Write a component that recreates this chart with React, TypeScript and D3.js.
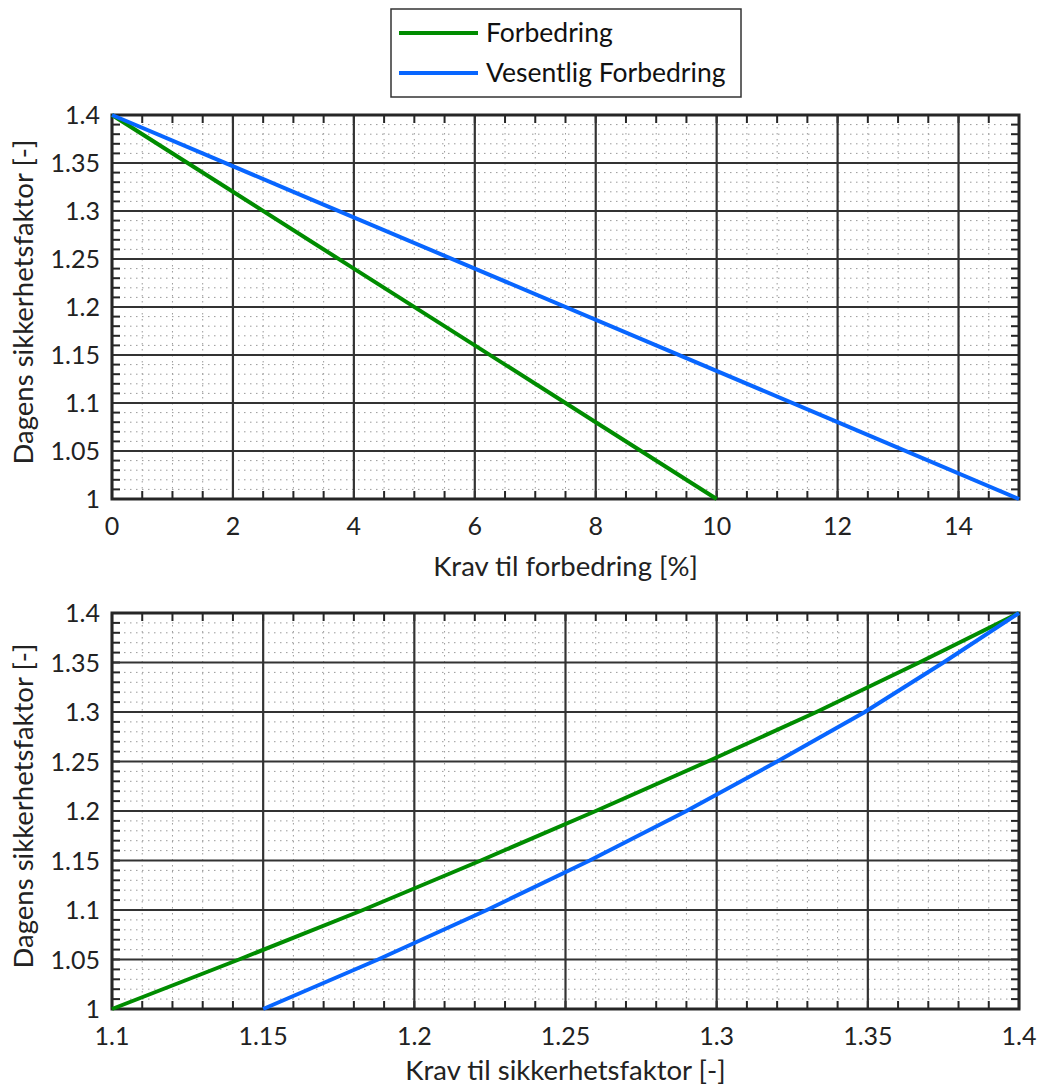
import React, { useEffect, useRef } from 'react'
import * as d3 from 'd3'

const W = 1038
const H = 1091
const FONT = 'Lato, "Open Sans", sans-serif'
const GREEN = '#008c00'
const BLUE = '#0866ff'
const AXIS = '#262626'

// Upper panel: required improvement [%] against current safety factor
const topGreenX = [0, 2, 4, 6, 8, 10]
const topGreenY = [1.4, 1.32, 1.24, 1.16, 1.08, 1.0]
const topBlueX = [0, 3, 6, 9, 12, 15]
const topBlueY = [1.4, 1.32, 1.24, 1.16, 1.08, 1.0]

// Lower panel: required safety factor against current safety factor
const bottomY = [1.0, 1.05, 1.1, 1.15, 1.2, 1.25, 1.3, 1.35, 1.4]
const bottomGreenX = [1.1, 1.142, 1.183, 1.222, 1.26, 1.297, 1.333, 1.367, 1.4]
const bottomBlueX = [1.15, 1.188, 1.224, 1.258, 1.29, 1.32, 1.349, 1.375, 1.4]

const yTicks = [1, 1.05, 1.1, 1.15, 1.2, 1.25, 1.3, 1.35, 1.4]
const yTickLabels = ['1', '1.05', '1.1', '1.15', '1.2', '1.25', '1.3', '1.35', '1.4']
const topXTicks = [0, 2, 4, 6, 8, 10, 12, 14]
const topXTickLabels = ['0', '2', '4', '6', '8', '10', '12', '14']
const bottomXTicks = [1.1, 1.15, 1.2, 1.25, 1.3, 1.35, 1.4]
const bottomXTickLabels = ['1.1', '1.15', '1.2', '1.25', '1.3', '1.35', '1.4']

const legendLabels = ['Forbedring', 'Vesentlig Forbedring']
const legendColors = [GREEN, BLUE]
const yTitle = 'Dagens sikkerhetsfaktor [-]'

type Panel = {
  left: number
  right: number
  top: number
  bottom: number
  xDomain: [number, number]
  xTicks: number[]
  xTickLabels: string[]
  xMinorStep: number
  xTitle: string
  xTitleOffset: number
  series: { xs: number[]; ys: number[]; color: string }[]
}

const steps = (a: number, b: number, step: number) => {
  const n = Math.round((b - a) / step)
  return d3.range(n + 1).map((i) => +(a + i * step).toFixed(6))
}

function drawPanel(svg: d3.Selection<SVGSVGElement, unknown, null, undefined>, p: Panel) {
  const x = d3.scaleLinear().domain(p.xDomain).range([p.left, p.right])
  const y = d3.scaleLinear().domain([1, 1.4]).range([p.bottom, p.top])
  const g = svg.append('g')

  const xMinor = steps(p.xDomain[0], p.xDomain[1], p.xMinorStep)
  const yMinor = steps(1, 1.4, 0.01)

  // dotted minor grid
  g.selectAll('line.vminor')
    .data(xMinor)
    .join('line')
    .attr('x1', (d) => x(d))
    .attr('x2', (d) => x(d))
    .attr('y1', p.top)
    .attr('y2', p.bottom)
    .attr('stroke', '#9a9a9a')
    .attr('stroke-width', 1)
    .attr('stroke-dasharray', '1.5,4.5')
  g.selectAll('line.hminor')
    .data(yMinor)
    .join('line')
    .attr('x1', p.left)
    .attr('x2', p.right)
    .attr('y1', (d) => y(d))
    .attr('y2', (d) => y(d))
    .attr('stroke', '#9a9a9a')
    .attr('stroke-width', 1)
    .attr('stroke-dasharray', '1.5,4.5')

  // minor ticks, inward on all four sides
  const tl = 8
  xMinor.forEach((d) => {
    g.append('line').attr('x1', x(d)).attr('x2', x(d)).attr('y1', p.bottom).attr('y2', p.bottom - tl)
      .attr('stroke', AXIS).attr('stroke-width', 2)
    g.append('line').attr('x1', x(d)).attr('x2', x(d)).attr('y1', p.top).attr('y2', p.top + tl)
      .attr('stroke', AXIS).attr('stroke-width', 2)
  })
  yMinor.forEach((d) => {
    g.append('line').attr('x1', p.left).attr('x2', p.left + tl).attr('y1', y(d)).attr('y2', y(d))
      .attr('stroke', AXIS).attr('stroke-width', 2)
    g.append('line').attr('x1', p.right).attr('x2', p.right - tl).attr('y1', y(d)).attr('y2', y(d))
      .attr('stroke', AXIS).attr('stroke-width', 2)
  })

  // major grid
  g.selectAll('line.vmajor')
    .data(p.xTicks)
    .join('line')
    .attr('x1', (d) => x(d))
    .attr('x2', (d) => x(d))
    .attr('y1', p.top)
    .attr('y2', p.bottom)
    .attr('stroke', '#333')
    .attr('stroke-width', 2.2)
  g.selectAll('line.hmajor')
    .data(yTicks)
    .join('line')
    .attr('x1', p.left)
    .attr('x2', p.right)
    .attr('y1', (d) => y(d))
    .attr('y2', (d) => y(d))
    .attr('stroke', '#333')
    .attr('stroke-width', 1.8)

  // frame
  g.append('rect')
    .attr('x', p.left)
    .attr('y', p.top)
    .attr('width', p.right - p.left)
    .attr('height', p.bottom - p.top)
    .attr('fill', 'none')
    .attr('stroke', AXIS)
    .attr('stroke-width', 3)

  // data lines
  const line = d3.line<[number, number]>().x((d) => x(d[0])).y((d) => y(d[1]))
  p.series.forEach((s) => {
    g.append('path')
      .attr('d', line(s.xs.map((v, i) => [v, s.ys[i]] as [number, number])))
      .attr('fill', 'none')
      .attr('stroke', s.color)
      .attr('stroke-width', 4)
  })

  // tick labels
  g.selectAll('text.ylab')
    .data(yTicks)
    .join('text')
    .attr('x', p.left - 12)
    .attr('y', (d) => y(d) + 9)
    .attr('text-anchor', 'end')
    .attr('font-family', FONT)
    .attr('font-size', 25)
    .attr('fill', '#222')
    .text((d, i) => yTickLabels[i])
  g.selectAll('text.xlab')
    .data(p.xTicks)
    .join('text')
    .attr('x', (d) => x(d))
    .attr('y', p.bottom + 36)
    .attr('text-anchor', 'middle')
    .attr('font-family', FONT)
    .attr('font-size', 25)
    .attr('fill', '#222')
    .text((d, i) => p.xTickLabels[i])

  // axis titles
  g.append('text')
    .attr('x', (p.left + p.right) / 2)
    .attr('y', p.bottom + p.xTitleOffset)
    .attr('text-anchor', 'middle')
    .attr('font-family', FONT)
    .attr('font-size', 27.5)
    .attr('fill', '#222')
    .text(p.xTitle)
  const cy = (p.top + p.bottom) / 2 - 5
  g.append('text')
    .attr('transform', `translate(33, ${cy}) rotate(-90)`)
    .attr('text-anchor', 'middle')
    .attr('font-family', FONT)
    .attr('font-size', 27.5)
    .attr('fill', '#222')
    .text(yTitle)
}

export default function App() {
  const svgRef = useRef<SVGSVGElement>(null)

  useEffect(() => {
    if (!svgRef.current) return
    const svg = d3.select(svgRef.current)
    svg.selectAll('*').remove()

    svg.append('rect').attr('width', W).attr('height', H).attr('fill', '#fff')

    drawPanel(svg, {
      left: 112,
      right: 1019,
      top: 115,
      bottom: 499,
      xDomain: [0, 15],
      xTicks: topXTicks,
      xTickLabels: topXTickLabels,
      xMinorStep: 0.5,
      xTitle: 'Krav til forbedring [%]',
      xTitleOffset: 77,
      series: [
        { xs: topGreenX, ys: topGreenY, color: GREEN },
        { xs: topBlueX, ys: topBlueY, color: BLUE },
      ],
    })

    drawPanel(svg, {
      left: 112,
      right: 1019,
      top: 613,
      bottom: 1009,
      xDomain: [1.1, 1.4],
      xTicks: bottomXTicks,
      xTickLabels: bottomXTickLabels,
      xMinorStep: 0.01,
      xTitle: 'Krav til sikkerhetsfaktor [-]',
      xTitleOffset: 71,
      series: [
        { xs: bottomGreenX, ys: bottomY, color: GREEN },
        { xs: bottomBlueX, ys: bottomY, color: BLUE },
      ],
    })

    // legend
    const legend = svg.append('g')
    legend.append('rect')
      .attr('x', 391)
      .attr('y', 9)
      .attr('width', 350)
      .attr('height', 88)
      .attr('fill', '#fff')
      .attr('stroke', '#333')
      .attr('stroke-width', 1.5)
    legendLabels.forEach((label, i) => {
      const ly = 33 + i * 40
      legend.append('line')
        .attr('x1', 399)
        .attr('x2', 478)
        .attr('y1', ly)
        .attr('y2', ly)
        .attr('stroke', legendColors[i])
        .attr('stroke-width', 4)
      legend.append('text')
        .attr('x', 486)
        .attr('y', ly + 9)
        .attr('font-family', FONT)
        .attr('font-size', 26.5)
        .attr('fill', '#111')
        .text(label)
    })
  }, [])

  return (
    <svg
      ref={svgRef}
      width={W}
      height={H}
      style={{ position: 'absolute', left: 0, top: 0, display: 'block' }}
    />
  )
}
